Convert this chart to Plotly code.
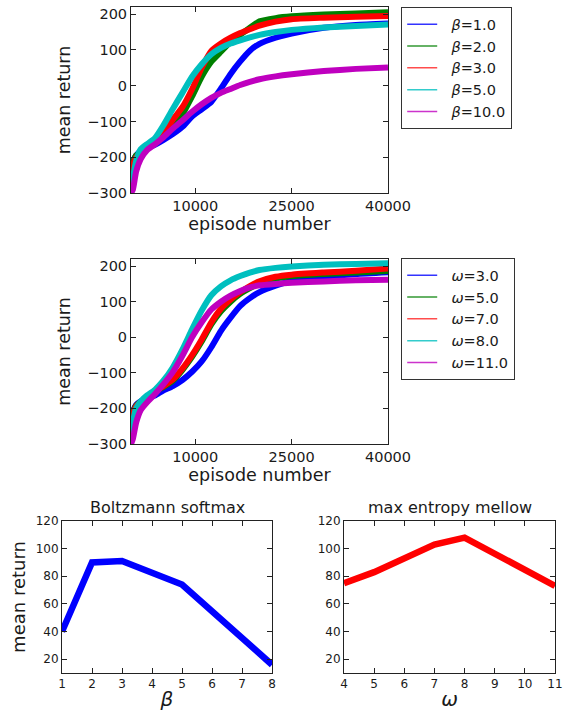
import plotly.graph_objects as go

# ---------------- data ----------------
episodes = [0, 300, 800, 1500, 2500, 3700, 5000, 6500, 8000, 9500, 11000, 12500,
            14000, 15500, 17000, 18500, 20000, 22500, 25000, 30000, 35000, 40000]

beta_labels = ["1.0", "2.0", "3.0", "5.0", "10.0"]
beta_b1 = [-240, -215, -195, -183, -174, -165, -152, -135, -115, -86, -66, -45,
           -8, 33, 68, 98, 117, 134, 146, 162, 170, 174]
beta_b2 = [-250, -215, -195, -185, -170, -158, -140, -115, -80, -30, 25, 67,
           95, 122, 142, 162, 180, 189, 194, 199, 202, 205]
beta_b3 = [-270, -225, -200, -188, -172, -158, -138, -95, -60, -10, 50, 97,
           118, 134, 147, 158, 168, 179, 186, 190, 193, 195]
beta_b5 = [-300, -260, -210, -178, -163, -147, -112, -65, -20, 25, 60, 88,
           106, 118, 127, 135, 142, 150, 156, 163, 167, 171]
beta_b10 = [-300, -290, -240, -205, -180, -164, -145, -120, -97, -73, -52, -34,
            -20, -9, 2, 11, 18, 26, 32, 41, 47, 51]

omega_labels = ["3.0", "5.0", "7.0", "8.0", "11.0"]
omega_w3 = [-240, -210, -190, -180, -172, -164, -150, -137, -120, -97, -68, -28,
            18, 55, 88, 110, 127, 145, 158, 170, 178, 183]
omega_w5 = [-245, -212, -192, -182, -168, -153, -140, -122, -92, -55, -12, 36,
            73, 100, 122, 138, 152, 165, 172, 178, 182, 186]
omega_w7 = [-260, -218, -194, -182, -168, -152, -138, -119, -88, -50, -6, 42,
            80, 106, 127, 144, 157, 170, 176, 182, 187, 193]
omega_w8 = [-290, -240, -200, -180, -163, -148, -123, -85, -35, 22, 75, 118,
            143, 160, 172, 182, 189, 195, 199, 204, 206, 208]
omega_w11 = [-300, -285, -240, -205, -183, -160, -133, -98, -52, 0, 42, 78,
             100, 117, 130, 140, 146, 150, 153, 157, 160, 162]

beta_params = [1, 2, 3, 5, 8]
beta_means = [40, 90, 91, 74, 16]
omega_params = [4, 5, 7, 8, 11]
omega_means = [75, 83, 103, 108, 73]

colors = ["#0000ff", "#008000", "#ff0000", "#00bfbf", "#bf00bf"]
legend_colors = ["#3333ff", "#339933", "#ff4d4d", "#33cccc", "#cc33cc"]

FONT = "DejaVu Sans"
INK = "#1a1a1a"
W, H = 563, 711
PAD = "\u00a0\u00a0"


def px_x(a, b):
    return [a / W, b / W]


def px_y(top, bottom):
    return [1 - bottom / H, 1 - top / H]


fig = go.Figure()

beta_series = [beta_b1, beta_b2, beta_b3, beta_b5, beta_b10]
omega_series = [omega_w3, omega_w5, omega_w7, omega_w8, omega_w11]

for ser, c in zip(beta_series, colors):
    fig.add_trace(go.Scatter(x=episodes, y=ser, mode="lines", xaxis="x", yaxis="y",
                             line=dict(color=c, width=6, shape="spline", smoothing=0.5),
                             showlegend=False, hoverinfo="skip"))
for lab, lc in zip(beta_labels, legend_colors):
    fig.add_trace(go.Scatter(x=[None], y=[None], mode="lines", xaxis="x", yaxis="y",
                             line=dict(color=lc, width=1.5), name=PAD + "<i>β</i>=" + lab,
                             legend="legend"))

for ser, c in zip(omega_series, colors):
    fig.add_trace(go.Scatter(x=episodes, y=ser, mode="lines", xaxis="x2", yaxis="y2",
                             line=dict(color=c, width=6, shape="spline", smoothing=0.5),
                             showlegend=False, hoverinfo="skip"))
for lab, lc in zip(omega_labels, legend_colors):
    fig.add_trace(go.Scatter(x=[None], y=[None], mode="lines", xaxis="x2", yaxis="y2",
                             line=dict(color=lc, width=1.5), name=PAD + "<i>ω</i>=" + lab,
                             legend="legend2"))

fig.add_trace(go.Scatter(x=beta_params, y=beta_means, mode="lines", xaxis="x3", yaxis="y3",
                         line=dict(color="#0000ff", width=6.5), showlegend=False))
fig.add_trace(go.Scatter(x=omega_params, y=omega_means, mode="lines", xaxis="x4", yaxis="y4",
                         line=dict(color="#ff0000", width=6.5), showlegend=False))

axis_common = dict(showline=True, linecolor="#222", linewidth=1, mirror="ticks",
                   ticks="inside", ticklen=5, tickcolor="#222", showgrid=False,
                   zeroline=False, automargin=False,
                   tickfont=dict(family=FONT, size=14.5, color=INK))
axis_small = {**axis_common, "tickfont": dict(family=FONT, size=12, color=INK)}

title_font = dict(family=FONT, size=17.5, color=INK)

legend_common = dict(xanchor="left", yanchor="top", bordercolor="#333", borderwidth=1.2,
                     bgcolor="white", font=dict(family=FONT, size=14.5, color=INK),
                     tracegroupgap=0)

fig.update_layout(
    template="none",
    width=W, height=H, margin=dict(l=0, r=0, t=0, b=0, autoexpand=False),
    paper_bgcolor="white", plot_bgcolor="white",
    font=dict(family=FONT, color=INK),
    xaxis=dict(domain=px_x(131, 388), anchor="y", range=[0, 40000],
               tickvals=[10000, 25000, 40000], ticktext=["10000", "25000", "40000"],
               title=dict(text="episode number", font=title_font, standoff=3), **axis_common),
    yaxis=dict(domain=px_y(7, 193), anchor="x", range=[-300, 220],
               tickvals=[-300, -200, -100, 0, 100, 200],
               title=dict(text="mean return", font=title_font, standoff=12), **axis_common),
    xaxis2=dict(domain=px_x(131, 388), anchor="y2", range=[0, 40000],
                tickvals=[10000, 25000, 40000], ticktext=["10000", "25000", "40000"],
                title=dict(text="episode number", font=title_font, standoff=3), **axis_common),
    yaxis2=dict(domain=px_y(259, 444), anchor="x2", range=[-300, 220],
                tickvals=[-300, -200, -100, 0, 100, 200],
                title=dict(text="mean return", font=title_font, standoff=12), **axis_common),
    xaxis3=dict(domain=px_x(62, 272), anchor="y3", range=[1, 8],
                tickvals=[1, 2, 3, 4, 5, 6, 7, 8],
                title=dict(text="<i>β</i>", font=dict(family=FONT, size=20, color=INK), standoff=1),
                **axis_small),
    yaxis3=dict(domain=px_y(521, 673), anchor="x3", range=[10, 120],
                tickvals=[20, 40, 60, 80, 100, 120],
                title=dict(text="mean return", font=dict(family=FONT, size=18, color=INK), standoff=5),
                **axis_small),
    xaxis4=dict(domain=px_x(344, 555), anchor="y4", range=[4, 11],
                tickvals=[4, 5, 6, 7, 8, 9, 10, 11],
                title=dict(text="<i>ω</i>", font=dict(family=FONT, size=20, color=INK), standoff=1),
                **axis_small),
    yaxis4=dict(domain=px_y(521, 673), anchor="x4", range=[10, 120],
                tickvals=[20, 40, 60, 80, 100, 120], **axis_small),
    legend=dict(x=401 / W, y=1 - 7 / H, **legend_common),
    legend2=dict(x=401 / W, y=1 - 258 / H, **legend_common),
    annotations=[
        dict(text="Boltzmann softmax", x=(62 + 272) / 2 / W, y=1 - 519 / H, xref="paper", yref="paper",
             xanchor="center", yanchor="bottom", showarrow=False,
             font=dict(family=FONT, size=16, color=INK)),
        dict(text="max entropy mellow", x=(344 + 555) / 2 / W, y=1 - 519 / H, xref="paper", yref="paper",
             xanchor="center", yanchor="bottom", showarrow=False,
             font=dict(family=FONT, size=16, color=INK)),
    ],
)

fig.write_html(
    "out.html",
    config={"displayModeBar": False},
    post_script="document.body.style.margin='0';document.body.style.padding='0';"
                "document.body.style.overflow='hidden';",
)
